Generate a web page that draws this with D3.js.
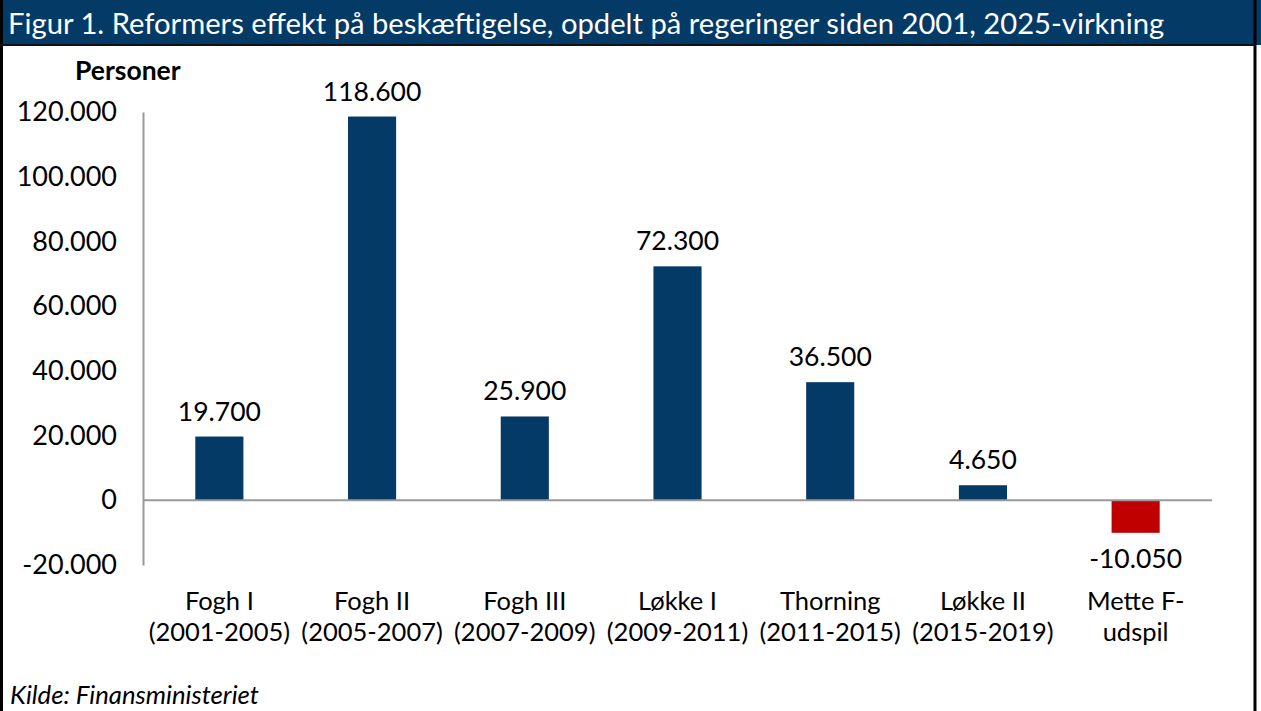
<!DOCTYPE html>
<html>
<head>
<meta charset="utf-8">
<script src="https://cdn.jsdelivr.net/npm/d3@7"></script>
<style>
	body { margin: 0; background: #fff; }
	svg { display: block; font-family: Lato, "Open Sans", sans-serif; }
</style>
</head>
<body>
<div id="chart"></div>
<script>
var categories = [
	["Fogh I", "(2001-2005)"],
	["Fogh II", "(2005-2007)"],
	["Fogh III", "(2007-2009)"],
	["Løkke I", "(2009-2011)"],
	["Thorning", "(2011-2015)"],
	["Løkke II", "(2015-2019)"],
	["Mette F-", "udspil"]
];
var values = [19700, 118600, 25900, 72300, 36500, 4650, -10050];
var yTicks = [-20000, 0, 20000, 40000, 60000, 80000, 100000, 120000];

var width = 1261, height = 711;
var navy = "#033A66", red = "#C00000";

var fmt = function(v) {
	var s = d3.format(",")(Math.abs(v)).replace(/,/g, ".");
	return (v < 0 ? "-" : "") + s;
};

var svg = d3.select("#chart").append("svg")
	.attr("width", width)
	.attr("height", height);

// title bar
svg.append("rect")
	.attr("x", 0).attr("y", 0)
	.attr("width", width).attr("height", 45)
	.attr("fill", navy);
svg.append("text")
	.attr("x", 8).attr("y", 34)
	.attr("fill", "#fff")
	.attr("font-size", 29.2)
	.text("Figur 1. Reformers effekt på beskæftigelse, opdelt på regeringer siden 2001, 2025-virkning");

// frame
svg.append("line").attr("x1", 1.5).attr("x2", 1.5).attr("y1", 0).attr("y2", height)
	.attr("stroke", "#000").attr("stroke-width", 3);
svg.append("line").attr("x1", 1255).attr("x2", 1255).attr("y1", 0).attr("y2", height)
	.attr("stroke", "#000").attr("stroke-width", 3);
svg.append("line").attr("x1", 0).attr("x2", 1256).attr("y1", 45).attr("y2", 45)
	.attr("stroke", "#111").attr("stroke-width", 2);

var x = d3.scaleBand()
	.domain(d3.range(categories.length))
	.range([143, 1212])
	.paddingInner(0.685)
	.paddingOuter(0.3425);

var y = d3.scaleLinear()
	.domain([-20000, 120000])
	.range([565, 112]);

// y axis
var yAxis = svg.append("g")
	.attr("transform", "translate(143,0)")
	.call(d3.axisLeft(y).tickValues(yTicks).tickSize(0).tickPadding(26).tickFormat(fmt));
yAxis.select(".domain").attr("stroke", "#999").attr("stroke-width", 2);
yAxis.selectAll("text")
	.attr("font-size", 27)
	.attr("fill", "#000")
	.attr("font-family", "Lato, sans-serif");

svg.append("text")
	.attr("x", 75).attr("y", 80)
	.attr("font-size", 26.5)
	.attr("font-weight", "bold")
	.text("Personer");

// bars
svg.selectAll(".bar")
	.data(values)
	.enter().append("rect")
	.attr("class", "bar")
	.attr("x", function(d, i) { return x(i); })
	.attr("width", x.bandwidth())
	.attr("y", function(d) { return y(Math.max(0, d)); })
	.attr("height", function(d) { return Math.abs(y(d) - y(0)); })
	.attr("fill", function(d) { return d < 0 ? red : navy; });

// zero line
svg.append("line")
	.attr("x1", 143).attr("x2", 1212)
	.attr("y1", y(0)).attr("y2", y(0))
	.attr("stroke", "#999").attr("stroke-width", 2);

// value labels
svg.selectAll(".vlabel")
	.data(values)
	.enter().append("text")
	.attr("class", "vlabel")
	.attr("x", function(d, i) { return x(i) + x.bandwidth() / 2; })
	.attr("y", function(d) { return d < 0 ? y(d) + 35 : y(d) - 16; })
	.attr("text-anchor", "middle")
	.attr("font-size", 26.5)
	.text(fmt);

// category labels
var cat = svg.selectAll(".cat")
	.data(categories)
	.enter().append("text")
	.attr("class", "cat")
	.attr("text-anchor", "middle")
	.attr("font-size", 25.5);
cat.each(function(d, i) {
	var t = d3.select(this);
	var cx = x(i) + x.bandwidth() / 2;
	d.forEach(function(line, k) {
		t.append("tspan").attr("x", cx).attr("y", 610 + k * 31).text(line);
	});
});

svg.append("text")
	.attr("x", 10).attr("y", 704)
	.attr("font-size", 25.7)
	.attr("font-style", "italic")
	.text("Kilde: Finansministeriet");
</script>
</body>
</html>
